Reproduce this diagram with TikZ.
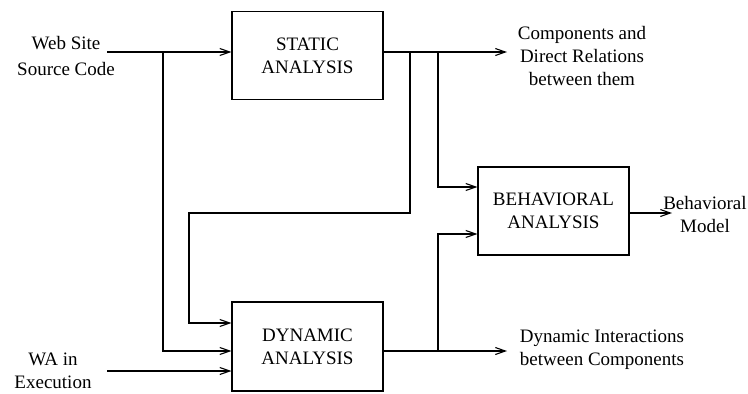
\documentclass[tikz,border=0pt]{standalone}
\usepackage{fontspec}
\newfontfamily\diagfont{Liberation Serif}
\usetikzlibrary{arrows.meta}

\begin{document}
\begin{tikzpicture}[x=1pt,y=-1pt,
        box/.style={draw, line width=1.1pt, minimum width=151pt, minimum height=88pt,
            align=center, inner sep=0pt, font=\diagfont\fontsize{19}{23}\selectfont},
        lbl/.style={align=center, inner sep=0pt, font=\diagfont\fontsize{19}{23}\selectfont},
        flow/.style={line width=1.1pt, -{Straight Barb[length=10pt,width=7pt]}}]
        \useasboundingbox (0,0) rectangle (748,394);
        \node[box] (static)  at (307.5,55.5)  {STATIC\\ANALYSIS};
        \node[box, minimum height=89pt] (dynamic) at (307.5,346.5) {DYNAMIC\\ANALYSIS};
        \node[box] (behav)   at (553.5,211)   {BEHAVIORAL\\ANALYSIS};
        \node[lbl, font=\diagfont\fontsize{19}{26}\selectfont] (src) at (66,55.5) {Web Site\\Source Code};
        \node[lbl] (wa)    at ( 53,371)   {WA in\\Execution};
        \node[lbl] (comp)  at (582,56)    {Components and\\Direct Relations\\between them};
        \node[lbl] (inter) at (602,349.5) {Dynamic Interactions\\between Components};
        \node[lbl] (model) at (705,214)   {Behavioral\\Model};

        \coordinate (srcin)   at (107,52);
        \coordinate (wain)    at (107,371);
        \coordinate (compin)  at (507,52);
        \coordinate (interin) at (507,351);
        \coordinate (modelin) at (672,213);
        \coordinate (s1) at (163,52);
        \coordinate (s2) at (410,52);
        \coordinate (s3) at (438,52);
        \coordinate (d1) at (438,351);
        \coordinate (loop)    at (189,213);
        \coordinate (loopend) at (189,323);
        \coordinate (b1) at (438,187);
        \coordinate (b2) at (438,234);

        \draw[flow] (srcin) -- (srcin -| static.west);
        \draw[flow] (s1) |- (dynamic.west |- d1);
        \draw[flow] (wain) -- (wain -| dynamic.west);
        \draw[flow] (static.east |- srcin) -- (compin);
        \draw[flow] (s2) |- (loop) -- (loopend) -- (loopend -| dynamic.west);
        \draw[flow] (s3) -- (b1) -- (b1 -| behav.west);
        \draw[flow] (dynamic.east |- d1) -- (interin);
        \draw[flow] (d1) -- (b2) -- (b2 -| behav.west);
        \draw[flow] (behav.east |- modelin) -- (modelin);
    \end{tikzpicture}
\end{document}
